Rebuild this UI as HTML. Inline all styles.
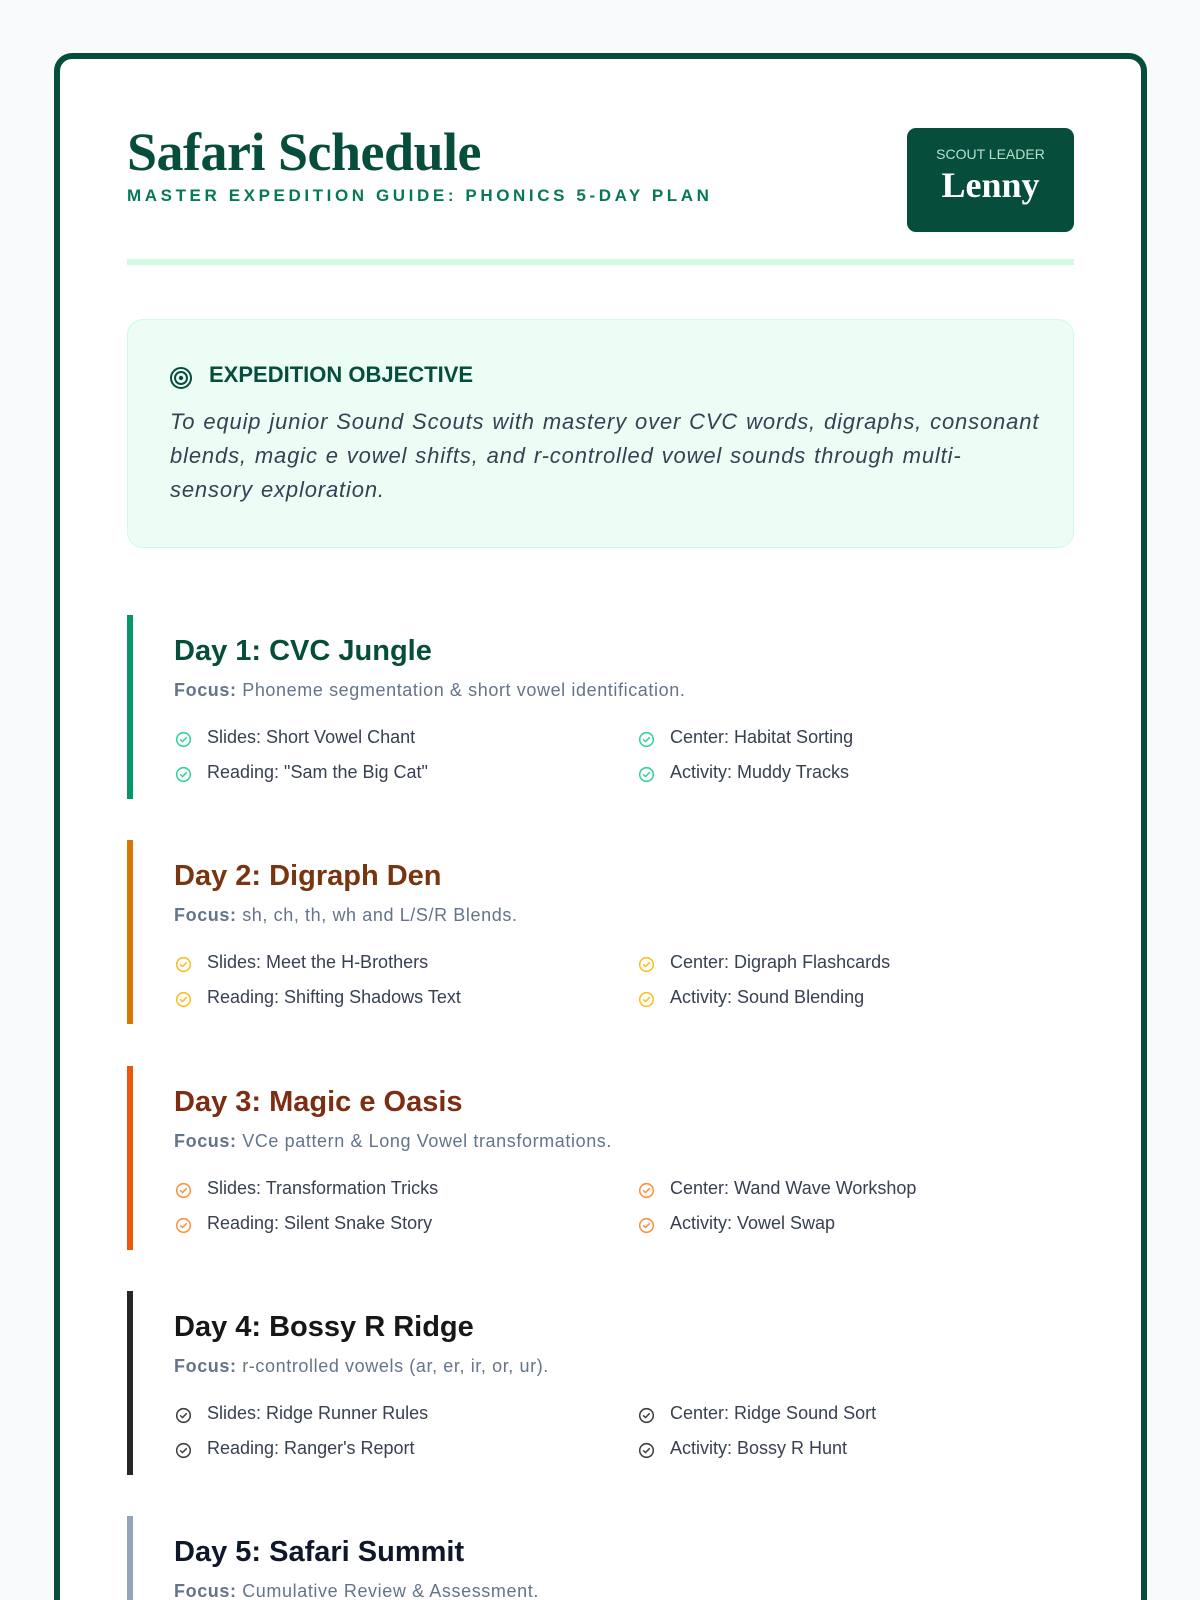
<!DOCTYPE html>
<html><head><meta charset="utf-8"><style>
*{margin:0;padding:0;box-sizing:border-box}
html,body{width:1200px;height:1600px;overflow:hidden}
body{background:#f8fafc;font-family:"Liberation Sans",sans-serif}
#wrap{position:relative;width:1200px;height:1600px;overflow:hidden}
.card{position:absolute;left:54px;top:53px;width:1093px;height:1600px;background:#fff;border:6px solid #064e3b;border-radius:18px}
.a{position:absolute;white-space:nowrap}
.title{left:127px;top:121px;font-family:"Liberation Serif",serif;font-weight:bold;font-size:54px;color:#064e3b;letter-spacing:-0.5px}
.sub{left:127px;top:186px;font-size:17px;font-weight:bold;color:#047857;letter-spacing:3.6px}
.badge{left:907px;top:128px;width:167px;height:104px;background:#064e3b;border-radius:9px;text-align:center;color:#fff}
.badge .l{font-size:14px;color:#d1fae5;margin-top:18px;opacity:.85}
.badge .n{font-family:"Liberation Serif",serif;font-weight:bold;font-size:36px;margin-top:2px}
.div{left:127px;top:259px;width:947px;height:6px;background:#d1fae5}
.obj{left:127px;top:319px;width:947px;height:229px;background:#ecfdf5;border:1.5px solid #d1fae5;border-radius:16px}
.oh{left:170px;top:362px;font-size:22px;font-weight:bold;color:#064e3b}
.ot{left:170px;top:405px;width:890px;white-space:normal;font-size:22px;font-style:italic;color:#374151;line-height:34px;letter-spacing:0.85px;word-spacing:1px}
.bar{position:absolute;left:127px;width:6px;height:184px}
.dt{font-size:29px;font-weight:bold}
.fc{font-size:18px;color:#64748b;letter-spacing:0.6px}
.fc b{color:#64748b}
.it{font-size:18px;color:#374151}
.ic{position:absolute;width:17px;height:17px}
</style></head><body><div id="wrap">
<div class="card"></div>
<div class="a title">Safari Schedule</div>
<div class="a sub">MASTER EXPEDITION GUIDE: PHONICS 5-DAY PLAN</div>
<div class="a badge"><div class="l">SCOUT LEADER</div><div class="n">Lenny</div></div>
<div class="a div"></div>
<div class="a obj"></div>
<svg class="a" style="left:169px;top:366px" width="24" height="24" viewBox="0 0 24 24"><circle cx="12" cy="12" r="10" fill="none" stroke="#064e3b" stroke-width="2"/><circle cx="12" cy="12" r="6" fill="none" stroke="#064e3b" stroke-width="2"/><circle cx="12" cy="12" r="2.2" fill="#064e3b"/></svg>
<div class="a oh" style="left:209px">EXPEDITION OBJECTIVE</div>
<div class="a ot">To equip junior Sound Scouts with mastery over CVC words, digraphs, consonant blends, magic e vowel shifts, and r-controlled vowel sounds through multi-<br>sensory exploration.</div>
<div id="days"></div>
</div>
<script>
var D=[
["Day 1: CVC Jungle","#059669","#064e3b","#34d399","Phoneme segmentation &amp; short vowel identification.",["Slides: Short Vowel Chant","Reading: \"Sam the Big Cat\"","Center: Habitat Sorting","Activity: Muddy Tracks"]],
["Day 2: Digraph Den","#d97706","#78350f","#fbbf24","sh, ch, th, wh and L/S/R Blends.",["Slides: Meet the H-Brothers","Reading: Shifting Shadows Text","Center: Digraph Flashcards","Activity: Sound Blending"]],
["Day 3: Magic e Oasis","#ea580c","#7c2d12","#fb923c","VCe pattern &amp; Long Vowel transformations.",["Slides: Transformation Tricks","Reading: Silent Snake Story","Center: Wand Wave Workshop","Activity: Vowel Swap"]],
["Day 4: Bossy R Ridge","#262626","#171717","#404040","r-controlled vowels (ar, er, ir, or, ur).",["Slides: Ridge Runner Rules","Reading: Ranger's Report","Center: Ridge Sound Sort","Activity: Bossy R Hunt"]],
["Day 5: Safari Summit","#94a3b8","#0f172a","#64748b","Cumulative Review &amp; Assessment.",[]]
];
var h="";
D.forEach(function(d,i){
 var t=615+i*225.3;
 h+='<div class="bar" style="top:'+t+'px;background:'+d[1]+'"></div>';
 h+='<div class="a dt" style="left:174px;top:'+(t+20)+'px;color:'+d[2]+'">'+d[0]+'</div>';
 h+='<div class="a fc" style="left:174px;top:'+(t+65)+'px"><b>Focus:</b> '+d[4]+'</div>';
 d[5].forEach(function(s,j){
  var x=j<2?174:637, y=t+(j%2?147:112);
  h+='<svg class="ic" style="left:'+(x+1)+'px;top:'+(y+4)+'px" viewBox="0 0 20 20"><circle cx="10" cy="10" r="8" fill="none" stroke="'+d[3]+'" stroke-width="1.8"/><path d="M6.5 10.3l2.3 2.2 4.5-4.6" fill="none" stroke="'+d[3]+'" stroke-width="1.8" stroke-linecap="round" stroke-linejoin="round"/></svg>';
  h+='<div class="a it" style="left:'+(x+33)+'px;top:'+y+'px">'+s+'</div>';
 });
});
document.getElementById("days").innerHTML=h;
</script>
</body></html>
